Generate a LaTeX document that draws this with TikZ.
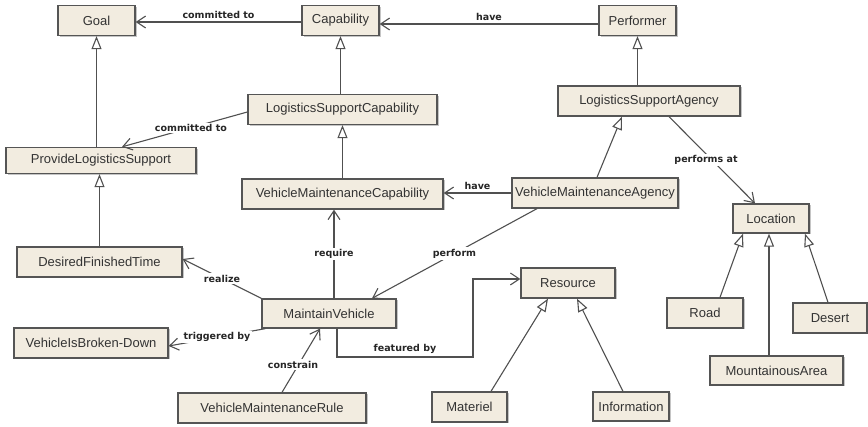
\documentclass[tikz,border=0pt]{standalone}
\usepackage{fontspec}
\setmainfont{Liberation Sans}
\newfontfamily\labelfont{DejaVu Sans}
\usetikzlibrary{arrows.meta,shadows}
\definecolor{boxfill}{RGB}{242,236,224}
\definecolor{boxline}{RGB}{85,85,85}
\definecolor{linkline}{RGB}{80,80,80}
\begin{document}
\begin{tikzpicture}[x=1pt, y=-1pt,
  cls/.style={draw=boxline, line width=1.3pt, fill=boxfill, minimum height=30pt, inner sep=0pt,
    font=\fontsize{13}{15}\selectfont, text=black!80,
    drop shadow={shadow xshift=1.5pt, shadow yshift=-1.5pt, fill=black!45}},
  gen/.style={draw=linkline, line width=1.1pt, -{Triangle[open, length=13pt, width=10pt, fill=white]}},
  assoc/.style={draw=linkline, line width=1.1pt, -{Straight Barb[length=9pt, width=12pt]}},
  lbl/.style={font=\labelfont\bfseries\fontsize{9.5}{11}\selectfont, text=black!85, inner sep=1.5pt},
  onl/.style={lbl, fill=white}]
\useasboundingbox (0,0) rectangle (868,427);
\node[cls, minimum width=77pt] (goal) at (96.5,20.5) {Goal};
\node[cls, minimum width=77pt] (capability) at (340.5,20.5) {Capability};
\node[cls, minimum width=77pt] (performer) at (637.5,20.5) {Performer};
\node[cls, minimum width=189pt] (lsc) at (342.5,109.5) {LogisticsSupportCapability};
\node[cls, minimum width=182pt] (lsa) at (649,101) {LogisticsSupportAgency};
\node[cls, minimum width=190pt, minimum height=26pt] (pls) at (101,160.5) {ProvideLogisticsSupport};
\node[cls, minimum width=201pt] (vmc) at (342.5,194) {VehicleMaintenanceCapability};
\node[cls, minimum width=166pt] (vma) at (595,193) {VehicleMaintenanceAgency};
\node[cls, minimum width=165pt] (dft) at (99.5,262) {DesiredFinishedTime};
\node[cls, minimum width=134pt, minimum height=29pt] (mv) at (329,313.5) {MaintainVehicle};
\node[cls, minimum width=154pt] (vibd) at (91,343) {VehicleIsBroken-Down};
\node[cls, minimum width=188pt] (vmr) at (272,408) {VehicleMaintenanceRule};
\node[cls, minimum width=94pt] (resource) at (568,283) {Resource};
\node[cls, minimum width=75pt] (materiel) at (469.5,407) {Materiel};
\node[cls, minimum width=76pt, minimum height=29pt] (information) at (631,406.5) {Information};
\node[cls, minimum width=76pt, minimum height=29pt] (location) at (771,218.5) {Location};
\node[cls, minimum width=76pt] (road) at (705,313) {Road};
\node[cls, minimum width=74pt] (desert) at (830,318) {Desert};
\node[cls, minimum width=133pt, minimum height=29pt] (mountain) at (776.5,370.5) {MountainousArea};
\coordinate (fbturn) at (473,357);

\draw[gen] (pls.north -| goal.south) -- (goal.south);
\draw[gen] (dft.north) -- (dft.north |- pls.south);
\draw[gen] (lsc.north -| capability.south) -- (capability.south);
\draw[gen] (vmc.north) -- (vmc.north |- lsc.south);
\draw[gen] (lsa.north -| performer.south) -- (performer.south);
\draw[gen] ([xshift=2pt]vma.north) -- ([xshift=-27pt]lsa.south);
\draw[gen] ([xshift=21.5pt]materiel.north) -- ([xshift=-20pt]resource.south);
\draw[gen] ([xshift=-8pt]information.north) -- ([xshift=9pt]resource.south);
\draw[gen] ([xshift=15pt]road.north) -- ([xshift=-28pt]location.south);
\draw[gen] ([xshift=-7.5pt]mountain.north) -- ([xshift=-2pt]location.south);
\draw[gen] ([xshift=-2pt]desert.north) -- ([xshift=34pt]location.south);

\draw[assoc] ([yshift=-1.5pt]capability.west) -- node[lbl, above=1pt] {committed to} ([yshift=-1.5pt]goal.east);
\draw[assoc] ([yshift=-3.5pt]performer.west) -- node[lbl, above=1pt] {have} ([yshift=-3.5pt]capability.east);
\draw[assoc] ([yshift=-2.5pt]lsc.west) -- node[onl, pos=0.45] {committed to} ([xshift=21pt]pls.north);
\draw[assoc] (vma.west) -- node[lbl, above=1pt] {have} (vma.west -| vmc.east);
\draw[assoc] ([xshift=20pt]lsa.south) -- node[onl, xshift=-6pt] {performs at} ([xshift=-16pt]location.north);
\draw[assoc] ([xshift=-58pt]vma.south) -- node[onl] {perform} ([xshift=43pt]mv.north);
\draw[assoc] ([xshift=5pt]mv.north) -- node[onl] {require} ([xshift=5pt]mv.north |- vmc.south);
\draw[assoc] (mv.north west) -- node[onl] {realize} ([yshift=3pt]dft.east);
\draw[assoc] ([xshift=4pt]mv.south west) -- node[onl] {triggered by} ([yshift=-3pt]vibd.east);
\draw[assoc] ([xshift=10pt]vmr.north) -- node[onl, xshift=-8pt, yshift=-4pt] {constrain} ([xshift=-9pt]mv.south);
\draw[assoc] ([xshift=8pt]mv.south) |- node[lbl, pos=0.75, above=1pt] {featured by} (fbturn) |- ([yshift=4pt]resource.west);
\end{tikzpicture}
\end{document}
